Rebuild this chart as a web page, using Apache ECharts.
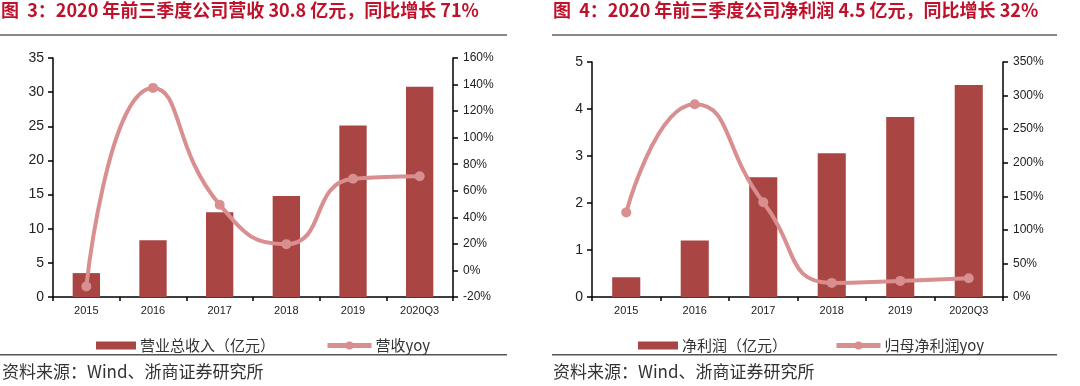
<!DOCTYPE html>
<html><head><meta charset="utf-8">
<script src="https://cdn.jsdelivr.net/npm/echarts@6/dist/echarts.min.js"></script>
<style>html,body{margin:0;padding:0;background:#fff}#c{width:1080px;height:386px}</style>
</head><body><div id="c"></div>
<script>
const categories = ['2015','2016','2017','2018','2019','2020Q3'];
const revenue = [3.5, 8.3, 12.4, 14.8, 25.1, 30.8];
const revenueYoy = [-12, 137.5, 49.5, 19.8, 69, 71];
const profit = [0.42, 1.2, 2.55, 3.06, 3.83, 4.51];
const profitYoy = [126, 287, 141, 21, 24, 28];
const leftTicks = {min: 0, max: 35, interval: 5};
const leftYoyTicks = {min: -20, max: 160, interval: 20};
const rightTicks = {min: 0, max: 5, interval: 1};
const rightYoyTicks = {min: 0, max: 350, interval: 50};
const titles = ['图  3：2020 年前三季度公司营收 30.8 亿元，同比增长 71%', '图  4：2020 年前三季度公司净利润 4.5 亿元，同比增长 32%'];
const legendNames = [['营业总收入（亿元）','营收yoy'],['净利润（亿元）','归母净利润yoy']];
const sourceText = '资料来源：Wind、浙商证券研究所';

const BAR = '#A94643', LINE = '#D98E8F', TITLE = '#C0112B';
const font = 'Liberation Sans, Arial, sans-serif';
const cjk = 'Noto Sans CJK SC, sans-serif';

function xAx(gi){return {type:'category',gridIndex:gi,data:categories,boundaryGap:true,
  axisLine:{lineStyle:{color:'#000',width:1.5}},axisTick:{show:true,length:4,lineStyle:{color:'#000',width:1.5}},
  axisLabel:{color:'#222',fontSize:11,fontFamily:font,margin:8}};}
function yAx(gi,t,pos,fmt,fs){return {type:'value',gridIndex:gi,position:pos,min:t.min,max:t.max,interval:t.interval,
  splitLine:{show:false},axisLine:{show:true,lineStyle:{color:'#000',width:1.5}},
  axisTick:{show:true,length:5,lineStyle:{color:'#000',width:1.5}},
  axisLabel:{color:'#222',fontSize:fs,fontFamily:font,margin:pos==='left'?9:10,formatter:fmt}};}
function leg(name,left,isLine){
  const l = {data:[isLine?{name:name}:{name:name,icon:'rect'}],left:left,top:333,itemWidth:isLine?44:40,itemHeight:isLine?10:8,itemGap:5,
    textStyle:{fontSize:15,color:'#333',fontFamily:cjk,padding:[0,0,0,-1]}};
  if(isLine){l.lineStyle={width:5,color:LINE};l.itemStyle={color:LINE};}
  return l;
}

const chart = echarts.init(document.getElementById('c'));
chart.setOption({
  animation:false,
  grid:[{left:53,width:400,top:58,height:239},{left:592,width:411,top:62,height:235}],
  xAxis:[xAx(0),xAx(1)],
  yAxis:[yAx(0,leftTicks,'left','{value}',14), yAx(0,leftYoyTicks,'right','{value}%',12),
         yAx(1,rightTicks,'left','{value}',14), yAx(1,rightYoyTicks,'right','{value}%',12)],
  legend:[leg(legendNames[0][0],91,false),leg(legendNames[0][1],320,true),
          leg(legendNames[1][0],633,false),leg(legendNames[1][1],829,true)],
  series:[
    {name:legendNames[0][0],type:'bar',xAxisIndex:0,yAxisIndex:0,data:revenue,barWidth:'41%',itemStyle:{color:BAR}},
    {name:legendNames[0][1],type:'line',xAxisIndex:0,yAxisIndex:1,data:revenueYoy,smooth:0.55,symbol:'circle',symbolSize:10,
     lineStyle:{color:LINE,width:4},itemStyle:{color:LINE}},
    {name:legendNames[1][0],type:'bar',xAxisIndex:1,yAxisIndex:2,data:profit,barWidth:'41%',itemStyle:{color:BAR}},
    {name:legendNames[1][1],type:'line',xAxisIndex:1,yAxisIndex:3,data:profitYoy,smooth:0.55,symbol:'circle',symbolSize:10,
     lineStyle:{color:LINE,width:4},itemStyle:{color:LINE}}
  ],
  graphic:[
    {type:'text',left:1,top:1,style:{text:titles[0],font:'bold 18px '+cjk,fill:TITLE}},
    {type:'text',left:553,top:1,style:{text:titles[1],font:'bold 18px '+cjk,fill:TITLE}},
    {type:'rect',shape:{x:0,y:34,width:507,height:2},style:{fill:'#888'}},
    {type:'rect',shape:{x:552,y:34,width:505,height:2},style:{fill:'#888'}},
    {type:'rect',shape:{x:0,y:354,width:507,height:1.5},style:{fill:'#555'}},
    {type:'rect',shape:{x:552,y:354,width:505,height:1.5},style:{fill:'#555'}},
    {type:'text',left:2,top:363,style:{text:sourceText,font:'17px '+cjk,fill:'#333'}},
    {type:'text',left:553,top:363,style:{text:sourceText,font:'17px '+cjk,fill:'#333'}}
  ]
});
</script></body></html>
